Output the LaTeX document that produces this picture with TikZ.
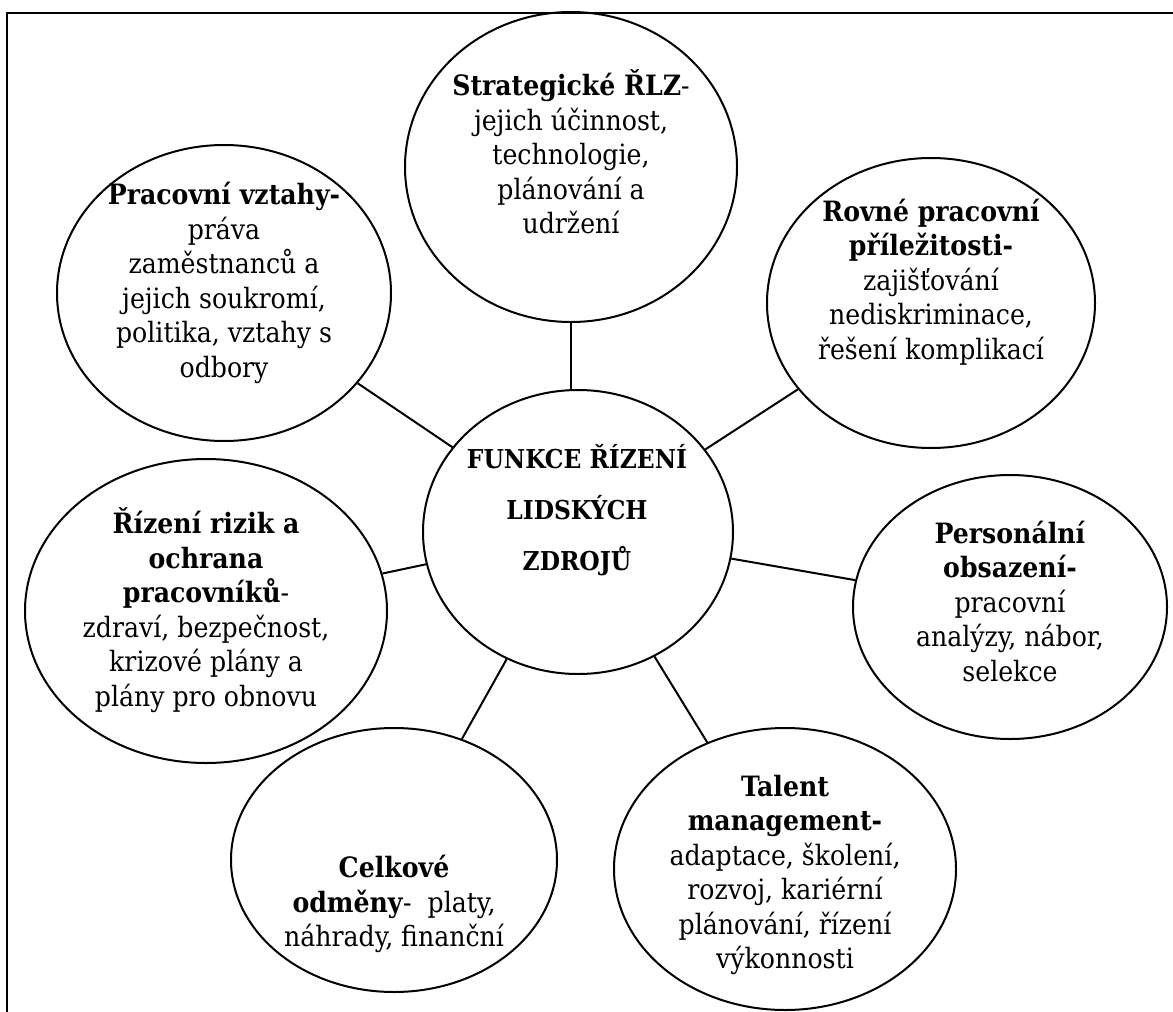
\documentclass[tikz,border=0pt]{standalone}
\usepackage{fontspec}
\setmainfont{DejaVu Serif Condensed}
\usepackage{tikz}
\usetikzlibrary{shapes.geometric}

\begin{document}
\begin{tikzpicture}[x=0.5pt,y=-0.5pt,
  bubble/.style={ellipse, draw, line width=1pt, inner sep=0pt},
  words/.style={align=center, inner sep=0pt, font=\fontsize{14}{17.25}\selectfont}]
\useasboundingbox (0,0) rectangle (1173,1012);
% Frame
\draw[line width=1.4pt] (7,1012) -- (7,13) -- (1173,13);

% Ellipses
\node[bubble, minimum width=166pt, minimum height=155pt] (strat) at (571,167) {};
\node[bubble, minimum width=155pt, minimum height=142pt] (hub) at (578,532) {};
\node[bubble, minimum width=167pt, minimum height=148pt] (work) at (224,293) {};
\node[bubble, minimum width=164pt, minimum height=145pt] (equal) at (931,303) {};
\node[bubble, minimum width=157pt, minimum height=132pt] (staff) at (1010,607) {};
\node[bubble, minimum width=171pt, minimum height=141pt] (talent) at (785,869) {};
\node[bubble, minimum width=163pt, minimum height=132pt] (reward) at (394,860) {};
\node[bubble, minimum width=181pt, minimum height=152pt] (risk) at (206,611) {};

% Texts
\node[words] (strat-t) at (571,152) {\textbf{Strategické ŘLZ}-\\jejich účinnost,\\technologie,\\plánování a\\udržení};
\node[words, font=\bfseries\fontsize{13}{25.5}\selectfont] (hub-t) at (577,510) {FUNKCE ŘÍZENÍ\\LIDSKÝCH\\ZDROJŮ};
\node[words] (work-t) at (224,283) {\textbf{Pracovní vztahy-}\\práva\\zaměstnanců a\\jejich soukromí,\\politika, vztahy s\\odbory};
\node[words] (equal-t) at (931,282) {\textbf{Rovné pracovní}\\\textbf{příležitosti-}\\zajišťování\\nediskriminace,\\řešení komplikací};
\node[words] (staff-t) at (1010,601) {\textbf{Personální}\\\textbf{obsazení-}\\pracovní\\analýzy, nábor,\\selekce};
\node[words] (talent-t) at (785,875) {\textbf{Talent}\\\textbf{management-}\\adaptace, školení,\\rozvoj, kariérní\\plánování, řízení\\výkonnosti};
\node[words] (reward-t) at (394,904) {\textbf{Celkové}\\\textbf{odměny}-~ platy,\\náhrady, finanční};
\node[words] (risk-t) at (206,610) {\textbf{Řízení rizik a}\\\textbf{ochrana}\\\textbf{pracovníků}-\\zdraví, bezpečnost,\\krizové plány a\\plány pro obnovu};

%Lines
\draw[line width=1pt] (strat.south) -- (hub.north -| strat.south);
\draw[line width=1pt] (work) -- (hub);
\draw[line width=1pt] (equal) -- (hub);
\draw[line width=1pt] (staff) -- (hub);
\draw[line width=1pt] (talent) -- (hub);
\draw[line width=1pt] (reward) -- (hub);
\draw[line width=1pt] (risk) -- (hub);
\end{tikzpicture}
\end{document}
